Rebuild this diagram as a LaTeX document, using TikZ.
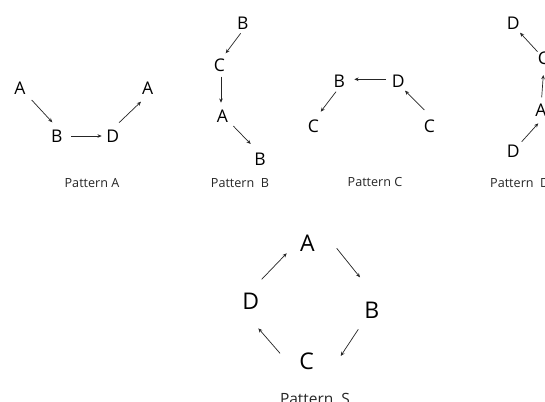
\documentclass[tikz,border=0pt]{standalone}
\usepackage{fontspec}
\setmainfont{Open Sans}
\usetikzlibrary{arrows.meta}
\begin{document}
\begin{tikzpicture}[x=1pt,y=-1pt,
  letter/.style={font=\fontsize{17.5}{20}\selectfont, inner sep=0pt, text=black},
  bigletter/.style={font=\fontsize{23}{26}\selectfont, inner sep=0pt, text=black},
  caption/.style={font=\fontsize{12.6}{15}\selectfont, inner sep=0pt, text=black!85},
  bigcaption/.style={font=\fontsize{15.5}{18}\selectfont, inner sep=0pt, text=black!85},
  arr/.style={-{Stealth[length=4.2pt,width=3.6pt]}, line width=0.7pt, draw=black!85}]
\useasboundingbox (0,0) rectangle (545,401);
\clip (0,0) rectangle (545,401);
\fill[white] (0,0) rectangle (545,401);
% Pattern A
\node[letter] (a1) at (20,88) {A};
\node[letter] (b1) at (56.7,136) {B};
\node[letter] (d1) at (112.7,136) {D};
\node[letter] (a2) at (147.7,88) {A};
\node[caption] (la) at (92,183.3) {Pattern A};
\draw[arr] ([shift={(11.7,12)}]a1.center) -- ([shift={(-4.4,-13.7)}]b1.center);
\draw[arr] ([shift={(14.3,0)}]b1.center) -- ([shift={(-11,0)}]d1.center);
\draw[arr] ([shift={(6.3,-13.3)}]d1.center) -- ([shift={(-6.7,13.7)}]a2.center);
% Pattern B
\node[letter] (b2) at (242.7,23.3) {B};
\node[letter] (c1) at (219.3,65) {C};
\node[letter] (a3) at (222.3,116.7) {A};
\node[letter] (b3) at (260,159.3) {B};
\node[caption] (lb) at (240,183.3) {Pattern\ \ B};
\draw[arr] ([shift={(-2,10)}]b2.center) -- ([shift={(6.4,-11.7)}]c1.center);
\draw[arr] ([shift={(1.7,11.7)}]c1.center) -- ([shift={(-1.3,-14)}]a3.center);
\draw[arr] ([shift={(11,9.3)}]a3.center) -- ([shift={(-9.3,-15.3)}]b3.center);
% Pattern C
\node[letter] (b4) at (339.3,81.7) {B};
\node[letter] (d2) at (398.3,81.7) {D};
\node[letter] (c2) at (313.3,126) {C};
\node[letter] (c3) at (429.3,126) {C};
\node[caption] (lc) at (375,181.7) {Pattern C};
\draw[arr] ([shift={(-12.3,-2.4)}]d2.center) -- ([shift={(15,-2.4)}]b4.center);
\draw[arr] ([shift={(-3.3,10)}]b4.center) -- ([shift={(7.4,-14.3)}]c2.center);
\draw[arr] ([shift={(-5,-16)}]c3.center) -- ([shift={(6.7,9)}]d2.center);
% Pattern D
\node[letter] (d3) at (513.3,23.3) {D};
\node[letter] (c4) at (543.5,58.3) {C};
\node[letter] (a4) at (541,110) {A};
\node[letter] (d4) at (513.3,151.7) {D};
\node[caption, anchor=west] (ld) at (490,183.3) {Pattern\ \ D};
\draw[arr] ([shift={(-6,-6.6)}]c4.center) -- ([shift={(6.7,9.4)}]d3.center);
\draw[arr] ([shift={(0.7,-12.7)}]a4.center) -- ([shift={(-0.2,16.7)}]c4.center);
\draw[arr] ([shift={(8.4,-10)}]d4.center) -- ([shift={(-2.7,13.3)}]a4.center);
% Pattern S
\node[bigletter] (sa) at (307.3,243.3) {A};
\node[bigletter] (sb) at (371.7,310) {B};
\node[bigletter] (sc) at (306.7,361.7) {C};
\node[bigletter] (sd) at (250.7,301.7) {D};
\node[bigcaption] (ls) at (315,399) {Pattern\ \ S};
\draw[arr] ([shift={(29.4,5)}]sa.center) -- ([shift={(-11.7,-32.7)}]sb.center);
\draw[arr] ([shift={(-13.4,19.3)}]sb.center) -- ([shift={(34,-5.7)}]sc.center);
\draw[arr] ([shift={(-26.7,-8.4)}]sc.center) -- ([shift={(7.6,26.6)}]sd.center);
\draw[arr] ([shift={(11,-22.4)}]sd.center) -- ([shift={(-20.6,10)}]sa.center);
\end{tikzpicture}
\end{document}
